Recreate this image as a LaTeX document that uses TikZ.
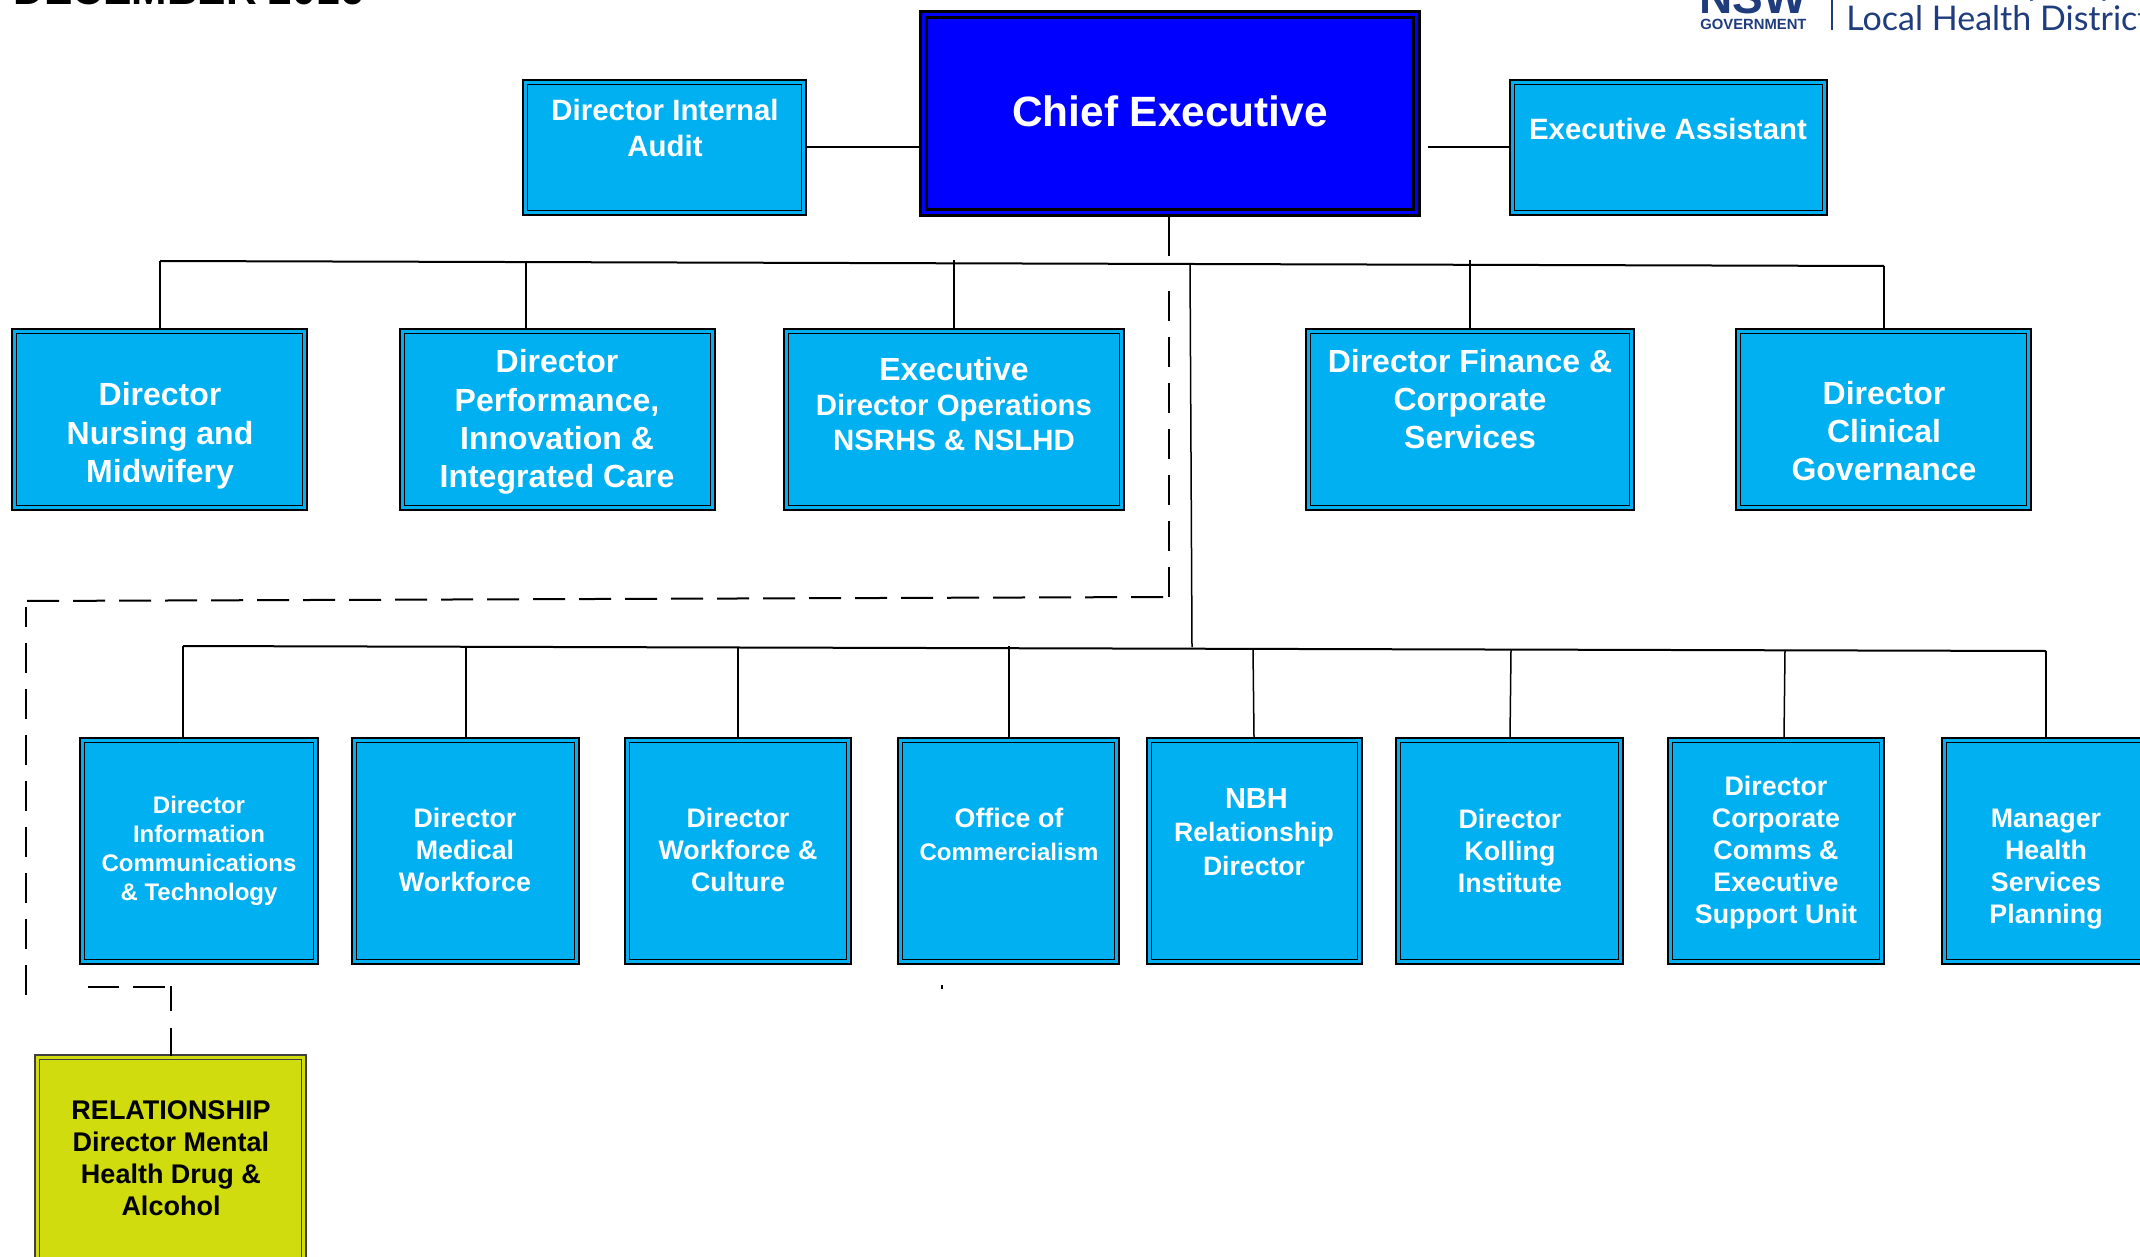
\documentclass[tikz,border=0pt]{standalone}
\usepackage{fontspec}
\setmainfont{Liberation Sans}
\newfontfamily\logofont{Lato}
\definecolor{cy}{HTML}{00B0F0}
\definecolor{bl}{HTML}{0000FF}
\definecolor{lm}{HTML}{D0DC0E}
\definecolor{logo}{HTML}{1F3C7C}
\tikzset{
  x=0.5pt,y=-0.5pt,
  cbox/.style={rectangle,inner sep=0pt,draw=black,double=cy,double distance=1.4pt,line width=0.9pt,fill=cy},
  chiefbox/.style={rectangle,inner sep=0pt,draw=black,double=bl,double distance=1.4pt,line width=1.5pt,fill=bl},
  limebox/.style={rectangle,inner sep=0pt,draw=black!75,double=lm,double distance=1.5pt,line width=0.8pt,fill=lm},
  lbl/.style 2 args={inner sep=0pt,align=center,text=white,font=\fontsize{#1}{#2}\selectfont\bfseries},
  conn/.style={draw=black,line width=1pt},
  thin conn/.style={draw=black,line width=0.75pt},
  vdash/.style={draw=black,line width=0.75pt,dash pattern=on 15pt off 8pt},
  hdash/.style={draw=black,line width=1pt,dash pattern=on 16pt off 7pt},
}
\newcommand{\orgbox}[6]{%
  \pgfmathsetmacro\bw{(#5-#3)*0.5}%
  \pgfmathsetmacro\bh{(#6-#4)*0.5}%
  \node[#2,minimum width={\bw pt-3.2pt},minimum height={\bh pt-3.2pt}] (#1) at ({(#3+#5)/2},{(#4+#6)/2}) {};%
}
\begin{document}
\begin{tikzpicture}
\useasboundingbox (0,0) rectangle (2140,1257);
\clip (0,0) rectangle (2140,1257);
% header
\node[anchor=base west,inner sep=0pt,font=\fontsize{21.3}{21.3}\selectfont\bfseries] (title) at (13,5) {DECEMBER 2016};
\node[anchor=base west,inner sep=0pt,text=logo,font=\fontsize{23}{23}\selectfont\bfseries] (nsw) at (1699,14) {NSW};
\node[anchor=base west,inner sep=0pt,text=logo,font=\fontsize{7.4}{8}\selectfont\bfseries] (gov) at (1700,30) {GOVERNMENT};
\coordinate (d1) at (1832,-2);
\coordinate (d2) at (1832,30);
\draw[draw=logo,line width=0.8pt] (d1) -- (d2);
\node[anchor=base west,inner sep=0pt,text=logo,font=\logofont\fontsize{17}{17}\selectfont] (lhd) at (1846,31) {Local Health District};
\node[anchor=base east,inner sep=0pt,text=logo,font=\logofont\fontsize{17}{17}\selectfont] (nsyd) at (2116,-4) {Northern Sydney};
% top boxes
\orgbox{ce}{chiefbox}{920}{11}{1420}{216}
\orgbox{ia}{cbox}{522}{79}{807}{216}
\orgbox{ea}{cbox}{1509}{79}{1828}{216}
% row 1
\orgbox{nm}{cbox}{11}{328}{308}{511}
\orgbox{pi}{cbox}{399}{328}{716}{511}
\orgbox{eo}{cbox}{783}{328}{1125}{511}
\orgbox{fc}{cbox}{1305}{328}{1635}{511}
\orgbox{cg}{cbox}{1735}{328}{2032}{511}
% row 2
\orgbox{ic}{cbox}{79}{737}{319}{965}
\orgbox{mw}{cbox}{351}{737}{580}{965}
\orgbox{wc}{cbox}{624}{737}{852}{965}
\orgbox{oc}{cbox}{897}{737}{1120}{965}
\orgbox{nb}{cbox}{1146}{737}{1363}{965}
\orgbox{kl}{cbox}{1395}{737}{1624}{965}
\orgbox{cs}{cbox}{1667}{737}{1885}{965}
\orgbox{mh}{cbox}{1941}{737}{2160}{965}
\orgbox{mn}{limebox}{34}{1054}{307}{1280}
% labels
\node[lbl={21.2}{22}] (t-ce) at (1170,111) {Chief Executive};
\node[lbl={14.7}{17.7}] (t-ia) at (665,128) {Director Internal\\Audit};
\node[lbl={14.7}{17}] (t-ea) at (1668,129) {Executive Assistant};
\node[lbl={16}{19.2}] (t-nm) at (160,436) {Director\\Nursing and\\Midwifery};
\node[lbl={16}{19.2}] (t-pi) at (557,422) {Director\\Performance,\\Innovation \&\\Integrated Care};
\node[lbl={14.7}{17.3}] (t-eo) at (954,404) {{\fontsize{16}{17.3}\selectfont Executive}\\Director Operations\\NSRHS \& NSLHD};
\node[lbl={16}{19.2}] (t-fc) at (1470,399) {Director Finance \&\\Corporate\\Services};
\node[lbl={16}{19.2}] (t-cg) at (1884,431) {Director\\Clinical\\Governance};
\node[lbl={12}{14.4}] (t-ic) at (199,851) {Director\\Information\\Communications\\\& Technology};
\node[lbl={13.4}{16}] (t-mw) at (465,850) {Director\\Medical\\Workforce};
\node[lbl={13.4}{16}] (t-wc) at (738,850) {Director\\Workforce \&\\Culture};
\node[lbl={13.4}{16.4}] (t-oc) at (1009,834) {Office of\\{\fontsize{12}{16.4}\selectfont Commercialism}};
\node[lbl={13.3}{16.6}] (t-nb) at (1254,832) {{\fontsize{14.5}{16.6}\selectfont\,NBH}\\Relationship\\Director};
\node[lbl={13.4}{16}] (t-kl) at (1510,851) {Director\\Kolling\\Institute};
\node[lbl={13.4}{16}] (t-cs) at (1776,853) {Director\\Corporate\\Comms \&\\Executive\\Support Unit};
\node[lbl={13.4}{16.1}] (t-mh) at (2046,869) {Manager\\Health\\Services\\Planning};
\node[lbl={13.5}{16},text=black] (t-mn) at (171,1158) {RELATIONSHIP\\Director Mental\\Health Drug \&\\Alcohol};
% top connectors
\coordinate (iaE) at (807,147);
\coordinate (ceW) at (920,147);
\coordinate (ceE) at (1428,147);
\coordinate (eaW) at (1509,147);
\draw[conn] (iaE) -- (ceW);
\draw[conn] (ceE) -- (eaW);
% upper bus
\coordinate (u1) at (160,261);
\coordinate (u2) at (526,262);
\coordinate (u3) at (954,260);
\coordinate (u4) at (1190,264);
\coordinate (u5) at (1470,260);
\coordinate (u6) at (1884,266);
\draw[conn] (u1) -- (u6);
\draw[thin conn] (u1) -- (u1 |- nm.north);
\draw[thin conn] (u2) -- (u2 |- pi.north);
\draw[thin conn] (u3) -- (u3 |- eo.north);
\draw[thin conn] (u5) -- (u5 |- fc.north);
\draw[thin conn] (u6) -- (u6 |- cg.north);
% lower bus and trunk
\coordinate (l0) at (1192,647);
\coordinate (l1) at (183,646);
\coordinate (l2) at (466,647);
\coordinate (l3) at (738,647);
\coordinate (l4) at (1009,646);
\coordinate (l5) at (1253,649);
\coordinate (l6) at (1511,650);
\coordinate (l7) at (1785,650);
\coordinate (l8) at (2046,651);
\draw[thin conn] (u4) -- (l0);
\draw[conn] (l1) -- (l8);
\draw[thin conn] (l1) -- (l1 |- ic.north);
\draw[thin conn] (l2) -- (l2 |- mw.north);
\draw[thin conn] (l3) -- (l3 |- wc.north);
\draw[thin conn] (l4) -- (l4 |- oc.north);
\draw[thin conn] (l5) -- (1254,737);
\draw[thin conn] (l6) -- (1510,737);
\draw[thin conn] (l7) -- (1784,737);
\draw[thin conn] (l8) -- (l8 |- mh.north);
% dashed relationship line
\coordinate (v0) at (1169,256);
\coordinate (v1) at (1169,291);
\coordinate (v2) at (1169,597);
\coordinate (h1) at (1163,597);
\coordinate (h2) at (24,601);
\coordinate (w1) at (26,995);
\coordinate (w2) at (26,607);
\coordinate (x1) at (165,987);
\coordinate (x2) at (88,987);
\coordinate (y1) at (171,986);
\draw[thin conn] (ce.south -| v0) -- (v0);
\draw[vdash] (v1) -- (v2);
\draw[hdash] (h1) -- (h2);
\draw[vdash] (w1) -- (w2);
\draw[hdash] (x1) -- (x2);
\draw[thin conn,dash pattern=on 14pt off 8.5pt] (mn.north -| y1) -- (y1);
\coordinate (dot1) at (942,985);
\coordinate (dot2) at (942,989);
\draw[thin conn] (dot1) -- (dot2);
\end{tikzpicture}
\end{document}
